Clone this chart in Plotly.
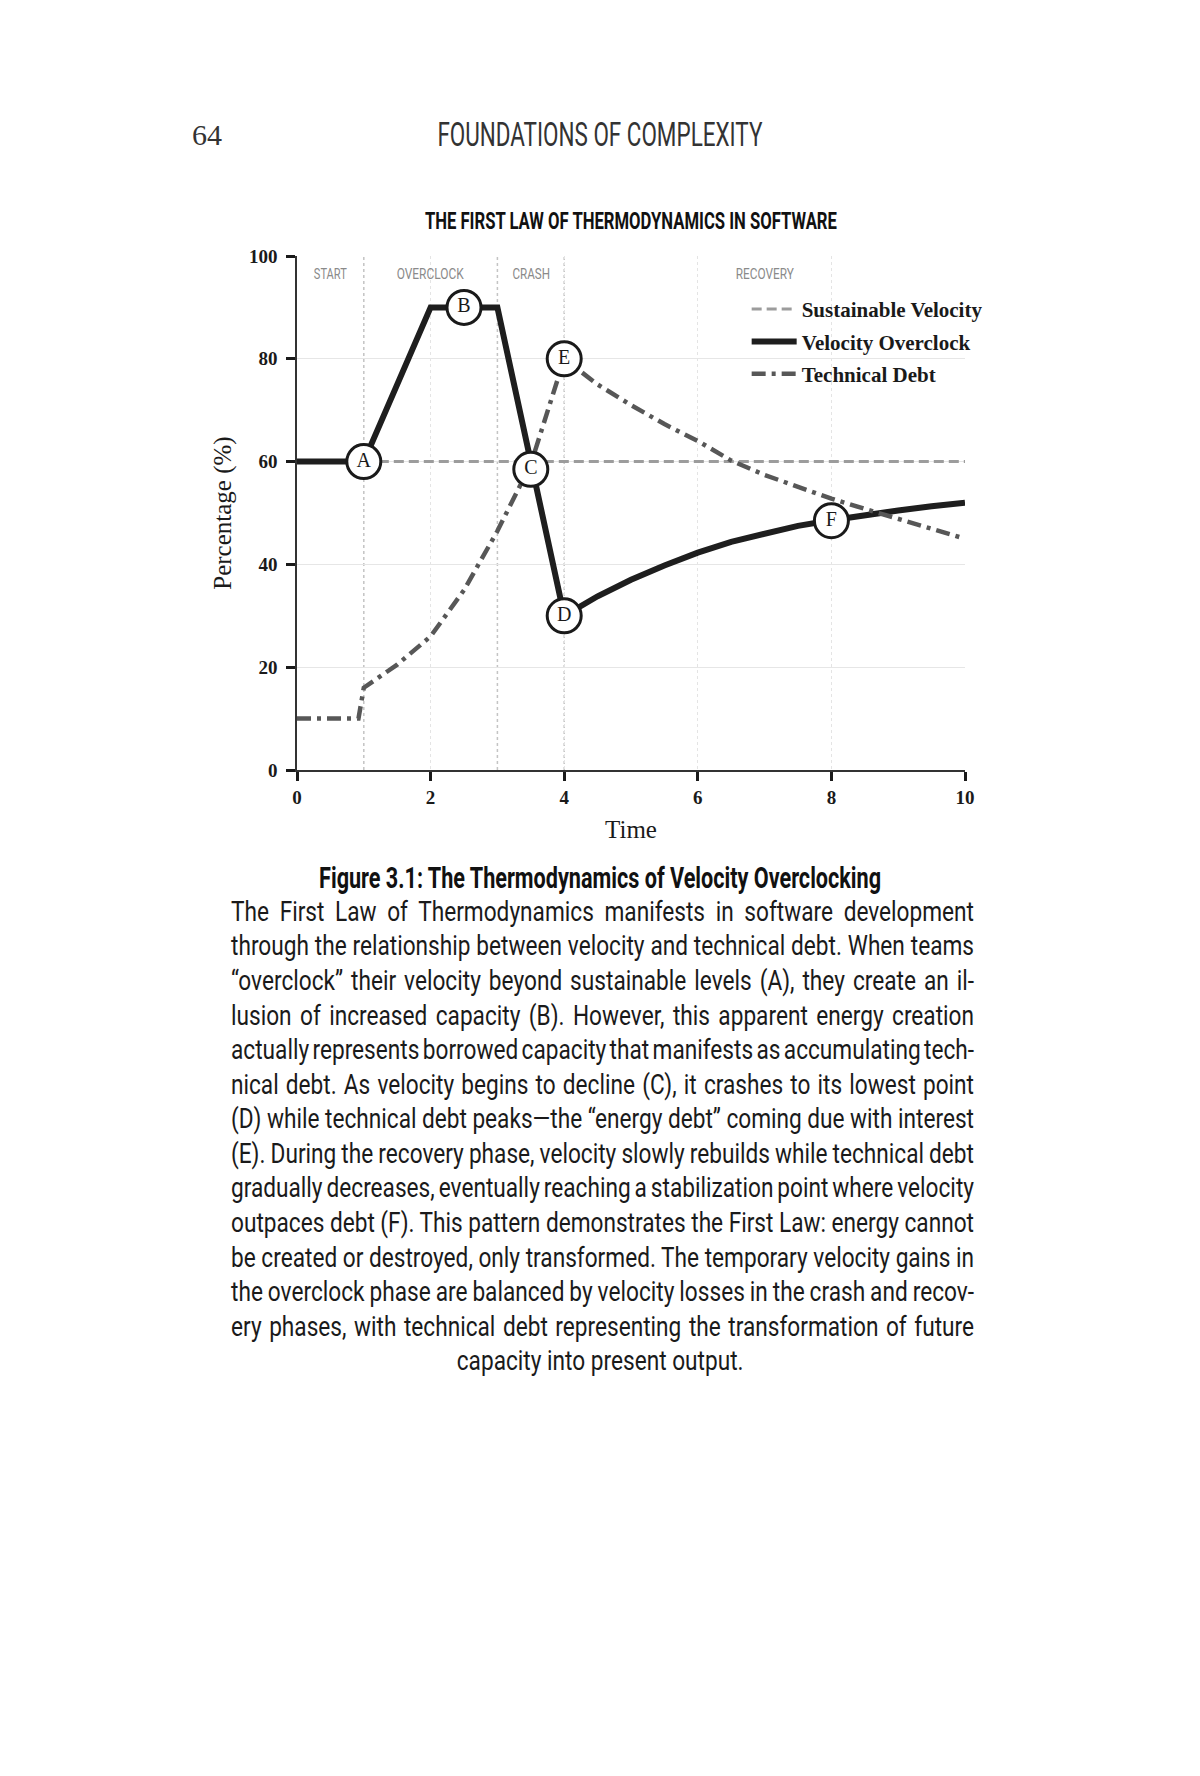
import json
import plotly.graph_objects as go

# ---------------- data ----------------
sustain_x = [1, 10]
sustain_y = [60, 60]

vel_x = [0, 1, 2, 2.5, 3, 3.5, 4, 4.5, 5, 5.5, 6, 6.5, 7, 7.5, 8, 8.5, 9, 9.5, 10]
vel_y = [60, 60, 90, 90, 90, 60, 30, 33.8, 37, 39.8, 42.3, 44.4, 46.1, 47.5, 48.6, 49.6, 50.5, 51.3, 52]

debt_x = [0, 0.92, 1.0, 1.5, 2, 2.5, 3, 3.5, 4, 4.5, 5, 5.5, 6, 6.5, 7, 7.5, 8, 8.5, 9, 9.5, 10]
debt_y = [10, 10, 16, 20.5, 26, 35, 46.5, 59.5, 80, 75, 71, 67.3, 64, 60.2, 57.4, 55, 52.8, 50.8, 48.8, 46.9, 45]

point_labels = ["A", "B", "C", "D", "E", "F"]
point_x = [1, 2.5, 3.5, 4, 4, 8]
point_y = [60, 90, 58.5, 30, 80, 48.5]

phase_labels = ["START", "OVERCLOCK", "CRASH", "RECOVERY"]
phase_x = [0.5, 2, 3.5, 7]
phase_label_y = 96.5
phase_bounds = [1, 3, 4]

x_ticks = [0, 2, 4, 6, 8, 10]
y_ticks = [0, 20, 40, 60, 80, 100]

page_number = "64"
running_head = "FOUNDATIONS OF COMPLEXITY"
chart_title = "THE FIRST LAW OF THERMODYNAMICS IN SOFTWARE"
caption_title = "Figure 3.1: The Thermodynamics of Velocity Overclocking"
body_lines = [
    "The First Law of Thermodynamics manifests in software development",
    "through the relationship between velocity and technical debt. When teams",
    "\u201coverclock\u201d their velocity beyond sustainable levels (A), they create an il-",
    "lusion of increased capacity (B). However, this apparent energy creation",
    "actually represents borrowed capacity that manifests as accumulating tech-",
    "nical debt. As velocity begins to decline (C), it crashes to its lowest point",
    "(D) while technical debt peaks\u2014the \u201cenergy debt\u201d coming due with interest",
    "(E). During the recovery phase, velocity slowly rebuilds while technical debt",
    "gradually decreases, eventually reaching a stabilization point where velocity",
    "outpaces debt (F). This pattern demonstrates the First Law: energy cannot",
    "be created or destroyed, only transformed. The temporary velocity gains in",
    "the overclock phase are balanced by velocity losses in the crash and recov-",
    "ery phases, with technical debt representing the transformation of future",
]
body_last_line = "capacity into present output."

# ---------------- styling ----------------
SERIF = "Liberation Serif, DejaVu Serif, serif"
COND = "Roboto, Liberation Sans, sans-serif"

L, R, T, B = 297, 965.5, 256, 770.5
W, H = 1200, 1776


def px(x):
    return (x - L) / (R - L)


def py(y):
    return (B - y) / (B - T)


fig = go.Figure()

fig.add_trace(go.Scatter(
    x=sustain_x, y=sustain_y, mode="lines", name="Sustainable Velocity",
    line=dict(color="#9c9c9c", width=3, dash="10px,5px"),
    legendgroup="a",
))
fig.add_trace(go.Scatter(
    x=vel_x, y=vel_y, mode="lines", name="Velocity Overclock",
    line=dict(color="#1e1e1e", width=6),
    legendgroup="b",
))
fig.add_trace(go.Scatter(
    x=debt_x, y=debt_y, mode="lines", name="Technical Debt",
    line=dict(color="#575757", width=4.5, dash="14px,6px,4px,6px"),
    legendgroup="c",
))
fig.add_trace(go.Scatter(
    x=point_x, y=point_y, mode="markers+text", text=point_labels,
    textposition="middle center", showlegend=False, hoverinfo="skip",
    marker=dict(size=34, color="white", line=dict(color="#1a1a1a", width=3)),
    textfont=dict(family=SERIF, size=20, color="#1a1a1a"),
))

shapes = []
for xb in phase_bounds:
    shapes.append(dict(type="line", xref="x", yref="y", x0=xb, x1=xb, y0=0, y1=100,
                       line=dict(color="#c4c4c4", width=1.5, dash="dot"), layer="below"))

# target (reference) widths for the condensed texts, in px
cond_widths = {}
annotations = []
phase_widths = [33, 67, 37.5, 58]
for lab, xp, wd in zip(phase_labels, phase_x, phase_widths):
    annotations.append(dict(x=xp, y=phase_label_y, xref="x", yref="y", text=lab,
                            xanchor="center", yanchor="middle",
                            showarrow=False, font=dict(family=COND, size=15, color="#8a8a8a")))
    cond_widths[lab] = wd

annotations.append(dict(x=px(207), y=py(134), xref="paper", yref="paper", text=page_number,
                        xanchor="center", yanchor="middle",
                        showarrow=False, font=dict(family=SERIF, size=30, color="#333")))
annotations.append(dict(x=px(600), y=py(134), xref="paper", yref="paper", text=running_head,
                        xanchor="center", yanchor="middle",
                        showarrow=False, font=dict(family=COND, size=33, color="#333")))
cond_widths[running_head] = 325
annotations.append(dict(x=px(631), y=py(221), xref="paper", yref="paper", text="<b>" + chart_title + "</b>",
                        xanchor="center", yanchor="middle",
                        showarrow=False, font=dict(family=COND, size=24, color="#111")))
cond_widths[chart_title] = 412
annotations.append(dict(x=px(600.5), y=py(878), xref="paper", yref="paper", text="<b>" + caption_title + "</b>",
                        xanchor="center", yanchor="middle",
                        showarrow=False, font=dict(family=COND, size=30, color="#111")))
cond_widths[caption_title] = 562
for i, line in enumerate(body_lines):
    annotations.append(dict(x=px(229), y=py(912 + i * 34.6), xref="paper", yref="paper", text=line,
                            xanchor="left", yanchor="middle", align="left", showarrow=False,
                            font=dict(family=COND, size=27.5, color="#1a1a1a")))
annotations.append(dict(x=px(600.5), y=py(912 + len(body_lines) * 34.6), xref="paper", yref="paper",
                        text=body_last_line, xanchor="center", yanchor="middle", showarrow=False,
                        font=dict(family=COND, size=27.5, color="#1a1a1a")))

fig.update_layout(
    width=W, height=H,
    margin=dict(l=L, r=W - R, t=T, b=H - B, pad=0),
    paper_bgcolor="white", plot_bgcolor="white",
    shapes=shapes, annotations=annotations,
    legend=dict(x=px(747), y=py(289), xanchor="left", yanchor="top",
                font=dict(family=SERIF, size=21, color="#1a1a1a", weight="bold"),
                bgcolor="rgba(0,0,0,0)", tracegroupgap=2, itemwidth=45),
    xaxis=dict(range=[0, 10], tickvals=x_ticks, showline=True, linecolor="#333", linewidth=1.5,
               ticks="outside", ticklen=9, tickwidth=2.5, tickcolor="#1a1a1a",
               tickfont=dict(family=SERIF, size=19, color="#1a1a1a", weight="bold"),
               showgrid=True, gridcolor="#e4e4e4", griddash="dot", gridwidth=1, zeroline=False,
               title=dict(text="Time", font=dict(family=SERIF, size=25, color="#1a1a1a"), standoff=14)),
    yaxis=dict(range=[0, 100], tickvals=y_ticks, showline=True, linecolor="#333", linewidth=1.5,
               ticks="outside", ticklen=9, tickwidth=2.5, tickcolor="#1a1a1a",
               tickfont=dict(family=SERIF, size=19, color="#1a1a1a", weight="bold"),
               ticklabelstandoff=5,
               showgrid=True, gridcolor="#e6e6e6", gridwidth=1, zeroline=False,
               title=dict(text="Percentage (%)", font=dict(family=SERIF, size=25, color="#1a1a1a"), standoff=10)),
)

target_w = 972 - 229
js = """
document.body.style.margin = '0';
var gd = document.getElementById('{plot_id}');
var bodyLines = %s;
var lastLine = %s;
var condW = %s;
var target = %d;
var texts = gd.querySelectorAll('g.annotation text.annotation-text');
var body = [], last = null;
texts.forEach(function(t){
  var s = t.textContent;
  if (bodyLines.indexOf(s) >= 0) { body.push(t); return; }
  if (s === lastLine) { last = t; return; }
  if (condW[s] !== undefined) {
    t.setAttribute('textLength', condW[s]);
    t.setAttribute('lengthAdjust', 'spacingAndGlyphs');
  }
});
if (body.length) {
  var ratios = body.map(function(t){ return target / t.getBBox().width; });
  ratios.sort(function(a,b){return a-b;});
  var c = ratios[Math.floor(ratios.length/2)];
  body.forEach(function(t){
    var s = t.textContent;
    var n = (s.match(/ /g) || []).length;
    var w = t.getBBox().width;
    var ws = n ? (target / c - w) / n : 0;
    t.style.wordSpacing = ws + 'px';
    t.setAttribute('textLength', target);
    t.setAttribute('lengthAdjust', 'spacingAndGlyphs');
  });
  if (last) {
    var wl = last.getBBox().width;
    last.setAttribute('textLength', wl * c);
    last.setAttribute('lengthAdjust', 'spacingAndGlyphs');
  }
}
""" % (json.dumps(body_lines), json.dumps(body_last_line), json.dumps(cond_widths), target_w)

fig.write_html("out.html", post_script=js, config={"displayModeBar": False})
